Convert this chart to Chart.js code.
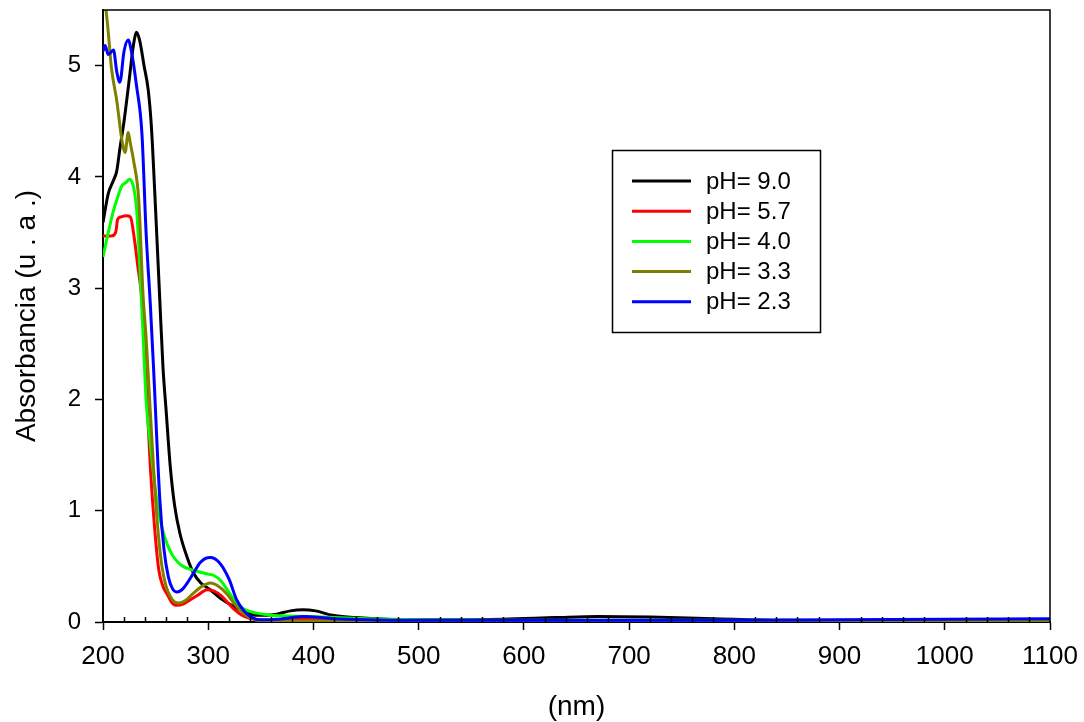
<!DOCTYPE html>
<html>
<head>
<meta charset="utf-8">
<script src="https://cdn.jsdelivr.net/npm/chart.js@4/dist/chart.umd.min.js"></script>
<style>
  body { margin: 0; background: #fff; }
  canvas { display: block; }
</style>
</head>
<body>
<canvas id="myChart" width="1084" height="722"></canvas>
<script>
var seriesLabels = ['pH= 9.0', 'pH= 5.7', 'pH= 4.0', 'pH= 3.3', 'pH= 2.3'];

var nm90 = [200, 205, 210, 213, 216, 220, 225, 229, 232, 235, 239, 243, 246, 250, 254, 257, 260, 264, 268, 273, 280, 286, 293, 302, 312, 324, 335, 345, 355, 365, 378, 390, 402, 418, 440, 470, 520, 580, 630, 670, 720, 780, 850, 950, 1050, 1100];
var abs90 = [3.59, 3.85, 3.97, 4.05, 4.25, 4.50, 4.88, 5.19, 5.30, 5.22, 5.00, 4.78, 4.45, 3.70, 2.89, 2.29, 1.90, 1.39, 1.05, 0.80, 0.58, 0.44, 0.35, 0.29, 0.21, 0.14, 0.09, 0.06, 0.06, 0.07, 0.10, 0.11, 0.10, 0.06, 0.04, 0.025, 0.02, 0.025, 0.04, 0.05, 0.045, 0.03, 0.015, 0.012, 0.018, 0.02];

var nm57 = [200, 208, 212, 214, 217, 222, 226, 230, 233, 237, 241, 245, 249, 253, 257, 261, 265, 270, 276, 283, 290, 299, 305, 312, 318, 324, 332, 340, 350, 370, 390, 410, 450, 550, 700, 850, 1000, 1100];
var abs57 = [3.47, 3.47, 3.50, 3.62, 3.64, 3.65, 3.64, 3.43, 3.20, 2.89, 2.15, 1.39, 0.85, 0.47, 0.32, 0.25, 0.18, 0.15, 0.16, 0.20, 0.24, 0.29, 0.28, 0.24, 0.18, 0.12, 0.06, 0.03, 0.015, 0.02, 0.03, 0.02, 0.01, 0.01, 0.01, 0.01, 0.01, 0.01];

var nm40 = [200, 205, 210, 214, 218, 222, 225, 229, 232, 235, 238, 241, 245, 251, 256, 261, 266, 271, 276, 284, 292, 300, 305, 312, 318, 324, 330, 338, 346, 360, 375, 395, 420, 450, 500, 600, 800, 1000, 1100];
var abs40 = [3.28, 3.50, 3.70, 3.82, 3.92, 3.95, 3.98, 3.91, 3.70, 3.19, 2.60, 1.99, 1.60, 1.10, 0.85, 0.70, 0.60, 0.54, 0.50, 0.47, 0.45, 0.43, 0.42, 0.37, 0.29, 0.21, 0.14, 0.10, 0.08, 0.06, 0.055, 0.05, 0.04, 0.03, 0.02, 0.015, 0.015, 0.015, 0.015];

var nm33 = [200, 203, 205, 208, 213, 218, 221, 224, 226, 229, 234, 238, 241, 244, 248, 252, 256, 260, 264, 268, 272, 278, 286, 294, 302, 310, 318, 326, 336, 345, 360, 400, 500, 700, 900, 1100];
var abs33 = [5.70, 5.49, 5.30, 4.98, 4.69, 4.33, 4.22, 4.40, 4.30, 4.15, 3.79, 2.95, 2.55, 2.05, 1.39, 0.85, 0.50, 0.32, 0.23, 0.18, 0.17, 0.19, 0.26, 0.32, 0.35, 0.32, 0.25, 0.15, 0.06, 0.02, 0.01, 0.01, 0.005, 0.005, 0.005, 0.005];

var nm23 = [200, 202, 205, 210, 213, 216, 220, 224, 227, 232, 237, 241, 245, 248, 254, 258, 262, 266, 270, 275, 280, 286, 292, 297, 302, 306, 310, 314, 320, 327, 334, 340, 350, 365, 380, 390, 400, 420, 450, 500, 600, 700, 800, 900, 1000, 1100];
var abs23 = [5.13, 5.18, 5.10, 5.14, 4.95, 4.85, 5.13, 5.23, 5.13, 4.81, 4.39, 3.49, 2.85, 2.29, 1.10, 0.65, 0.41, 0.30, 0.27, 0.29, 0.35, 0.44, 0.53, 0.57, 0.58, 0.57, 0.54, 0.49, 0.38, 0.20, 0.10, 0.05, 0.02, 0.025, 0.04, 0.05, 0.045, 0.03, 0.02, 0.015, 0.015, 0.015, 0.015, 0.02, 0.025, 0.03];

var xTicks = [200, 300, 400, 500, 600, 700, 800, 900, 1000, 1100];
var yTicks = [0, 1, 2, 3, 4, 5];

function pairs(xs, ys) {
    var out = [];
    for (var i = 0; i < xs.length; i++) {
        out.push({ x: xs[i], y: ys[i] });
    }
    return out;
}

function makeSet(label, xs, ys, color, order) {
    return {
        label: label,
        data: pairs(xs, ys),
        borderColor: color,
        backgroundColor: color,
        borderWidth: 3,
        pointRadius: 0,
        fill: false,
        cubicInterpolationMode: 'monotone',
        order: order
    };
}

// frame on top/right, minor ticks on x, and the boxed legend
var extras = {
    id: 'extras',
    afterDraw: function (chart) {
        var ctx = chart.ctx;
        var a = chart.chartArea;
        var xs = chart.scales.x;
        ctx.save();
        ctx.strokeStyle = '#000';
        ctx.lineWidth = 1.5;
        ctx.beginPath();
        ctx.moveTo(a.left, a.top);
        ctx.lineTo(a.right, a.top);
        ctx.lineTo(a.right, a.bottom);
        ctx.stroke();

        ctx.beginPath();
        for (var v = 220; v < 1100; v += 20) {
            if (v % 100 === 0) continue;
            var px = Math.round(xs.getPixelForValue(v)) + 0.5;
            ctx.moveTo(px, a.bottom);
            ctx.lineTo(px, a.bottom - 5);
        }
        ctx.stroke();

        // legend
        ctx.lineWidth = 1.5;
        ctx.strokeRect(612.5, 150.5, 208, 182);
        var sets = chart.data.datasets;
        ctx.font = '24px "Liberation Sans", Arial, sans-serif';
        ctx.textBaseline = 'middle';
        ctx.textAlign = 'left';
        ctx.fillStyle = '#000';
        for (var i = 0; i < sets.length; i++) {
            var y = 181 + i * 30.2;
            ctx.strokeStyle = sets[i].borderColor;
            ctx.lineWidth = 3;
            ctx.beginPath();
            ctx.moveTo(632, y);
            ctx.lineTo(691, y);
            ctx.stroke();
            ctx.fillText(sets[i].label, 706, y + 1);
        }
        ctx.restore();
    }
};

var ctx = document.getElementById('myChart').getContext('2d');
var chart = new Chart(ctx, {
    type: 'line',
    data: {
        datasets: [
            makeSet(seriesLabels[0], nm90, abs90, '#000000', 4),
            makeSet(seriesLabels[1], nm57, abs57, '#ff0000', 3),
            makeSet(seriesLabels[2], nm40, abs40, '#00ff00', 2),
            makeSet(seriesLabels[3], nm33, abs33, '#808000', 1),
            makeSet(seriesLabels[4], nm23, abs23, '#0000ff', 0)
        ]
    },
    options: {
        responsive: false,
        animation: false,
        layout: { padding: { left: 0, top: 10, right: 34, bottom: 0 } },
        plugins: {
            legend: { display: false },
            tooltip: { enabled: false }
        },
        scales: {
            x: {
                type: 'linear',
                min: 200,
                max: 1100,
                afterBuildTicks: function (scale) {
                    scale.ticks = xTicks.map(function (v) { return { value: v }; });
                },
                afterFit: function (scale) {
                    scale.height = 100;
                    scale.paddingLeft = 0;
                    scale.paddingRight = 0;
                },
                ticks: {
                    color: '#000',
                    padding: 11,
                    maxRotation: 0,
                    font: { family: '"Liberation Sans", Arial, sans-serif', size: 26 },
                    callback: function (v) { return String(v); }
                },
                grid: {
                    drawOnChartArea: false,
                    drawTicks: true,
                    tickLength: 8,
                    tickColor: '#000',
                    tickWidth: 1.5
                },
                border: { color: '#000', width: 2 },
                title: {
                    display: true,
                    text: '(nm)',
                    color: '#000',
                    font: { family: '"Liberation Sans", Arial, sans-serif', size: 28, lineHeight: 1 },
                    padding: { top: 0, bottom: 1 }
                }
            },
            y: {
                min: 0,
                max: 5.5,
                afterBuildTicks: function (scale) {
                    scale.ticks = yTicks.map(function (v) { return { value: v }; });
                },
                afterFit: function (scale) {
                    scale.width = 103;
                    scale.paddingTop = 0;
                    scale.paddingBottom = 0;
                },
                ticks: {
                    color: '#000',
                    padding: 14,
                    font: { family: '"Liberation Sans", Arial, sans-serif', size: 24 },
                    callback: function (v) { return String(v); }
                },
                grid: {
                    drawOnChartArea: false,
                    drawTicks: true,
                    tickLength: 8,
                    tickColor: '#000',
                    tickWidth: 1.5
                },
                border: { color: '#000', width: 2 },
                title: {
                    display: true,
                    text: 'Absorbancia (u . a .)',
                    color: '#000',
                    font: { family: '"Liberation Sans", Arial, sans-serif', size: 28, lineHeight: 1 },
                    padding: { top: 13, bottom: 0 }
                }
            }
        }
    },
    plugins: [extras]
});
</script>
</body>
</html>
